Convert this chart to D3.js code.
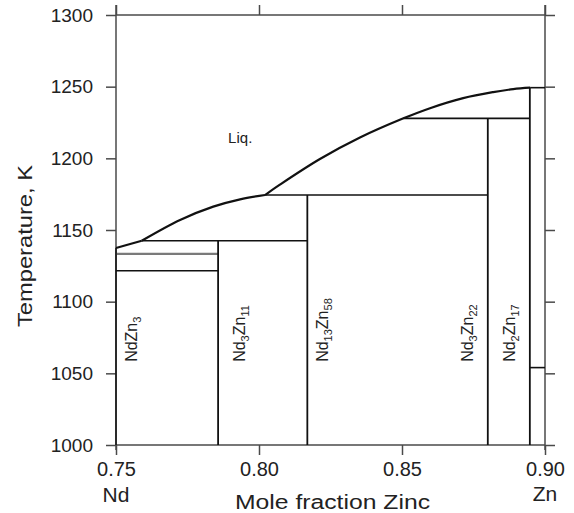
<!DOCTYPE html>
<html>
<head>
<meta charset="utf-8">
<script src="https://cdn.jsdelivr.net/npm/d3@7"></script>
<style>
  body { margin: 0; background: #fff; }
  svg { display: block; font-family: "Liberation Sans", Arial, Helvetica, sans-serif; }
  .axis path, .axis line { stroke: #4a4a4a; stroke-width: 1.5; }
  .axis text { fill: #222; }
  .phase { fill: none; stroke: #111; }
</style>
</head>
<body>
<div id="chart"></div>
<script>
// Liquidus (mole fraction Zn, K); branch breaks at the kinks
var liquidusX = [0.75, 0.759, 0.759, 0.7724, 0.784, 0.7934, 0.8021, 0.8021, 0.8073, 0.8213, 0.8353, 0.8505, 0.8598, 0.8714, 0.8819, 0.8889, 0.8948, 0.8948, 0.90];
var liquidusT = [1137.4, 1142.5, 1142.5, 1157.0, 1166.3, 1171.4, 1174.4, 1174.4, 1181.6, 1199.5, 1214.5, 1227.9, 1235.0, 1242.0, 1246.2, 1248.3, 1249.3, 1249.3, 1249.3];
var liquidusBranch = [0, 0, 1, 1, 1, 1, 1, 2, 2, 2, 2, 2, 2, 2, 2, 2, 2, 3, 3];

// Invariant (horizontal) lines
var invariantT    = [1142.5, 1133.3, 1121.6, 1174.4, 1227.9, 1054.0];
var invariantFrom = [0.759,  0.75,   0.75,   0.8021, 0.8505, 0.8947];
var invariantTo   = [0.8169, 0.7857, 0.7857, 0.88,   0.8947, 0.90];
var invariantGray = [false,  true,   false,  false,  false,  false];

// Compounds (vertical lines)
var compoundX   = [0.75,   0.7857, 0.8169, 0.88,   0.8947];
var compoundTop = [1137.4, 1142.5, 1174.4, 1227.9, 1249.3];
var compoundNd  = ["",  "3",  "13", "3",  "2"];
var compoundZn  = ["3", "11", "58", "22", "17"];
var labelX      = [0.7573, 0.7951, 0.8241, 0.8748, 0.8895];
var labelT = 1058;

var xTicks = [0.75, 0.80, 0.85, 0.90];
var yTicks = [1000, 1050, 1100, 1150, 1200, 1250, 1300];

var width = 574, height = 513;
var margins = { top: 15, right: 29, bottom: 68, left: 116 };

var svg = d3.select("#chart")
  .append("svg")
  .attr("width", width)
  .attr("height", height);

var xScale = d3.scaleLinear().domain([0.75, 0.90]).range([margins.left, width - margins.right]);
var yScale = d3.scaleLinear().domain([1000, 1300]).range([height - margins.bottom, margins.top]);

// Axes on all four sides, ticks pointing out
svg.append("g")
  .attr("class", "axis")
  .attr("transform", "translate(0," + yScale(1000) + ")")
  .style("font-size", "20px")
  .call(d3.axisBottom(xScale).tickValues(xTicks).tickFormat(d3.format(".2f")).tickSize(10).tickPadding(7).tickSizeOuter(0));

svg.append("g")
  .attr("class", "axis")
  .attr("transform", "translate(0," + yScale(1300) + ")")
  .call(d3.axisTop(xScale).tickValues(xTicks).tickFormat("").tickSize(10).tickSizeOuter(0));

svg.append("g")
  .attr("class", "axis")
  .attr("transform", "translate(" + xScale(0.75) + ",0)")
  .style("font-size", "19px")
  .call(d3.axisLeft(yScale).tickValues(yTicks).tickFormat(d3.format("d")).tickSize(10).tickPadding(13).tickSizeOuter(0));

svg.append("g")
  .attr("class", "axis")
  .attr("transform", "translate(" + xScale(0.90) + ",0)")
  .call(d3.axisRight(yScale).tickValues(yTicks).tickFormat("").tickSize(10).tickSizeOuter(0));

svg.selectAll(".axis .domain").remove();

// frame lines (with extension beyond the end ticks)
svg.append("g").attr("class", "axis").selectAll("line")
  .data([0.75, 0.90])
  .enter()
  .append("line")
  .attr("x1", d => xScale(d))
  .attr("x2", d => xScale(d))
  .attr("y1", yScale(1300) - 10)
  .attr("y2", yScale(1000) + 5);
svg.append("g").attr("class", "axis").selectAll("line")
  .data([1000, 1300])
  .enter()
  .append("line")
  .attr("x1", xScale(0.75))
  .attr("x2", xScale(0.90))
  .attr("y1", d => yScale(d))
  .attr("y2", d => yScale(d));

// Phase boundaries
var plot = svg.append("g");

plot.selectAll(".inv")
  .data(invariantT)
  .enter()
  .append("line")
  .attr("class", "phase inv")
  .attr("x1", (d, i) => xScale(invariantFrom[i]))
  .attr("x2", (d, i) => xScale(invariantTo[i]))
  .attr("y1", d => yScale(d))
  .attr("y2", d => yScale(d))
  .style("stroke", (d, i) => invariantGray[i] ? "#7a7a7a" : "#111")
  .attr("stroke-width", (d, i) => invariantGray[i] ? 2.2 : 1.6);

plot.selectAll(".cmp")
  .data(compoundX)
  .enter()
  .append("line")
  .attr("class", "phase cmp")
  .attr("x1", d => xScale(d))
  .attr("x2", d => xScale(d))
  .attr("y1", yScale(1000))
  .attr("y2", (d, i) => yScale(compoundTop[i]))
  .attr("stroke-width", (d, i) => i == 0 ? 1.5 : 1.8);

var liquidus = liquidusX.map((x, i) => ({ x: x, t: liquidusT[i], b: liquidusBranch[i] }));
var branches = d3.groups(liquidus, d => d.b).map(g => g[1]);
var line = d3.line()
  .x(d => xScale(d.x))
  .y(d => yScale(d.t))
  .curve(d3.curveCatmullRom.alpha(0.5));

plot.selectAll(".liq")
  .data(branches)
  .enter()
  .append("path")
  .attr("class", "phase liq")
  .attr("d", line)
  .attr("stroke-width", (d, i) => i == 3 ? 1.6 : 2.2);

// Compound labels (rotated, with subscripts)
var labels = plot.selectAll(".clabel")
  .data(compoundX)
  .enter()
  .append("text")
  .attr("class", "clabel")
  .attr("transform", (d, i) => "translate(" + xScale(labelX[i]) + "," + yScale(labelT) + ") rotate(-90)")
  .style("font-size", "16px")
  .attr("fill", "#222");

labels.each(function(d, i) {
  var t = d3.select(this);
  t.append("tspan").text("Nd");
  if (compoundNd[i]) {
    t.append("tspan").attr("dy", 4).style("font-size", "11px").text(compoundNd[i]);
    t.append("tspan").attr("dy", -4).text("Zn");
  } else {
    t.append("tspan").text("Zn");
  }
  t.append("tspan").attr("dy", 4).style("font-size", "11px").text(compoundZn[i]);
});

plot.append("text")
  .attr("x", xScale(0.7892))
  .attr("y", yScale(1210.7))
  .style("font-size", "15px")
  .attr("fill", "#222")
  .text("Liq.");

// Axis titles and end labels
svg.append("text")
  .attr("x", xScale(0.75))
  .attr("y", 502)
  .attr("text-anchor", "middle")
  .style("font-size", "21px")
  .attr("fill", "#222")
  .text("Nd");

svg.append("text")
  .attr("x", xScale(0.90))
  .attr("y", 501)
  .attr("text-anchor", "middle")
  .style("font-size", "21px")
  .attr("fill", "#222")
  .text("Zn");

svg.append("text")
  .attr("x", 235)
  .attr("y", 509)
  .attr("textLength", 195)
  .attr("lengthAdjust", "spacingAndGlyphs")
  .style("font-size", "20px")
  .attr("fill", "#222")
  .text("Mole fraction Zinc");

svg.append("text")
  .attr("transform", "translate(32,327) rotate(-90)")
  .attr("textLength", 162)
  .attr("lengthAdjust", "spacingAndGlyphs")
  .style("font-size", "21px")
  .attr("fill", "#222")
  .text("Temperature, K");
</script>
</body>
</html>
